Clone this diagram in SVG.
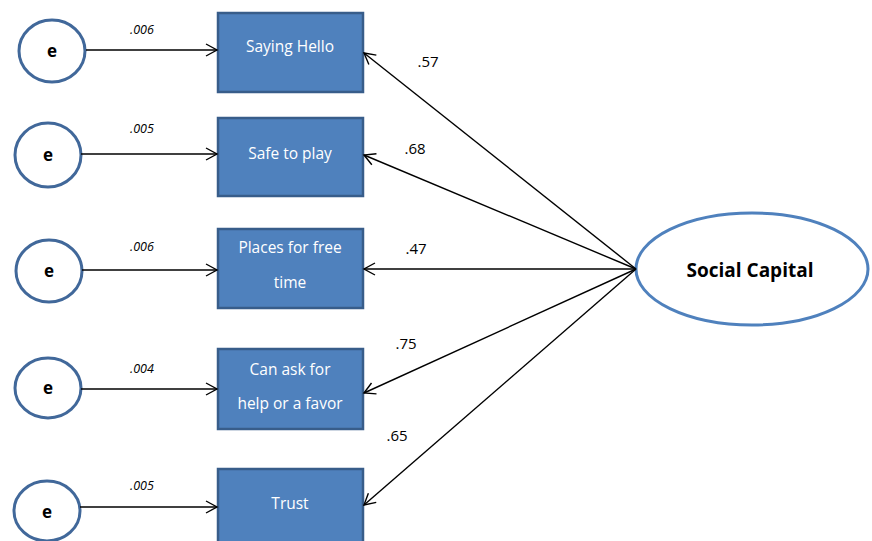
<svg xmlns="http://www.w3.org/2000/svg" width="872" height="541" viewBox="0 0 872 541">
<defs>
<marker id="arr" markerUnits="userSpaceOnUse" markerWidth="14" markerHeight="14" viewBox="0 0 14 14" refX="12" refY="7" orient="auto">
<path d="M1,1 L12,7 L1,13" fill="none" stroke="#000" stroke-width="1.4"/>
</marker>
</defs>
<style>
.box{fill:#4f81bd;stroke:#385d8a;stroke-width:2.5}
.err{fill:#fff;stroke:#41689a;stroke-width:3}
.bt{font-family:"Open Sans","Liberation Sans",sans-serif;font-size:15.5px;fill:#fff;text-anchor:middle}
.et{font-family:"Open Sans","Liberation Sans",sans-serif;font-size:17px;font-weight:bold;fill:#000;text-anchor:middle}
.ev{font-family:"Open Sans","Liberation Sans",sans-serif;font-size:12.5px;font-style:italic;fill:#000;text-anchor:middle}
.lv{font-family:"Open Sans","Liberation Sans",sans-serif;font-size:15px;fill:#000;text-anchor:middle}
.ln{stroke:#000;stroke-width:1.4;fill:none;marker-end:url(#arr)}
</style>
<rect width="872" height="541" fill="#fff"/>
<g id="e1"><ellipse class="err" cx="52" cy="51" rx="33" ry="31"/><text class="et" x="52" y="57">e</text></g>
<g id="e2"><ellipse class="err" cx="48" cy="155" rx="33" ry="32"/><text class="et" x="48" y="161">e</text></g>
<g id="e3"><ellipse class="err" cx="49" cy="271" rx="33" ry="31"/><text class="et" x="49" y="277">e</text></g>
<g id="e4"><ellipse class="err" cx="48" cy="388" rx="33" ry="30"/><text class="et" x="48" y="394">e</text></g>
<g id="e5"><ellipse class="err" cx="47" cy="511" rx="33" ry="30"/><text class="et" x="47" y="518">e</text></g>
<g id="saying-hello"><rect class="box" x="218" y="13" width="145" height="79"/><text class="bt" x="290" y="52">Saying Hello</text></g>
<g id="safe-to-play"><rect class="box" x="218" y="118" width="145" height="78"/><text class="bt" x="290" y="159">Safe to play</text></g>
<g id="places"><rect class="box" x="218" y="229" width="145" height="79"/><text class="bt" x="290" y="253">Places for free</text><text class="bt" x="290" y="288">time</text></g>
<g id="can-ask"><rect class="box" x="218" y="349" width="145" height="80"/><text class="bt" x="290" y="375">Can ask for</text><text class="bt" x="290" y="409">help or a favor</text></g>
<g id="trust"><rect class="box" x="218" y="469" width="145" height="80"/><text class="bt" x="290" y="509">Trust</text></g>
<g id="social-capital"><ellipse cx="752" cy="269" rx="116" ry="56" fill="#fff" stroke="#4f81bd" stroke-width="3"/><text x="750" y="277" font-family="'Open Sans','Liberation Sans',sans-serif" font-size="19" font-weight="bold" text-anchor="middle">Social Capital</text></g>
<g id="connectors">
<line class="ln" x1="86" y1="50" x2="217" y2="50"/>
<line class="ln" x1="81" y1="154" x2="217" y2="154"/>
<line class="ln" x1="82" y1="270" x2="217" y2="270"/>
<line class="ln" x1="81" y1="389" x2="217" y2="389"/>
<line class="ln" x1="80" y1="507" x2="217" y2="507"/>
<line class="ln" x1="636" y1="269" x2="364" y2="53"/>
<line class="ln" x1="636" y1="269" x2="364" y2="155"/>
<line class="ln" x1="636" y1="269" x2="364" y2="269"/>
<line class="ln" x1="636" y1="269" x2="364" y2="393"/>
<line class="ln" x1="636" y1="269" x2="364" y2="505"/>
<text class="ev" x="142" y="34">.006</text>
<text class="ev" x="142" y="133">.005</text>
<text class="ev" x="142" y="251">.006</text>
<text class="ev" x="142" y="373">.004</text>
<text class="ev" x="142" y="490">.005</text>
<text class="lv" x="428" y="67">.57</text>
<text class="lv" x="415" y="154">.68</text>
<text class="lv" x="416" y="254">.47</text>
<text class="lv" x="406" y="349">.75</text>
<text class="lv" x="397" y="441">.65</text>
</g>
</svg>
